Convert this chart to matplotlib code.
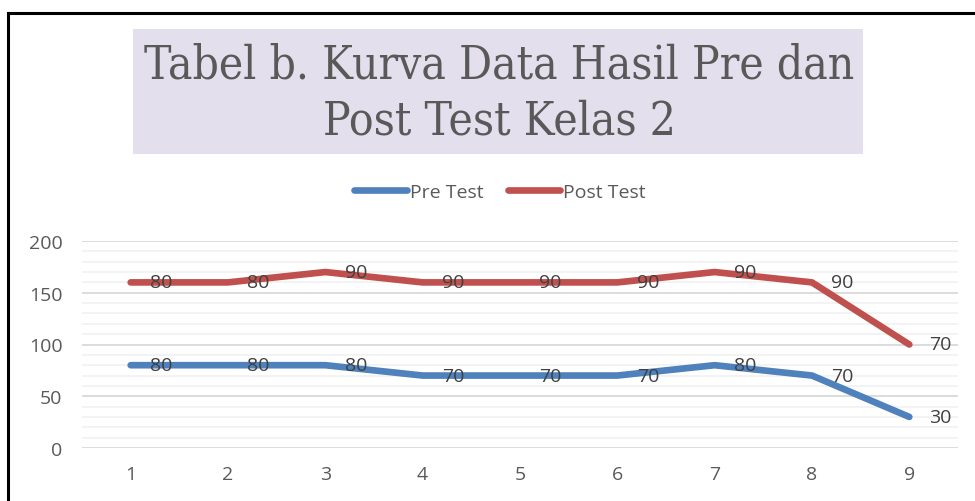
import numpy as np
import matplotlib
matplotlib.use("Agg")
import matplotlib.pyplot as plt
from matplotlib.lines import Line2D
from matplotlib.patches import Rectangle
from matplotlib import font_manager

# data (Excel stacked line chart)
categories = [1, 2, 3, 4, 5, 6, 7, 8, 9]
pre_test = [80, 80, 80, 70, 70, 70, 80, 70, 30]
post_test = [80, 80, 90, 90, 90, 90, 90, 90, 70]
y_ticks = [0, 50, 100, 150, 200]

title_lines = "Tabel b. Kurva Data Hasil Pre dan\nPost Test Kelas 2"

BLUE = "#4F81BD"
RED = "#C0504D"
GREY = "#595959"

W, H = 975, 502
plt.rcParams["font.family"] = ["Open Sans", "DejaVu Sans"]

# pick a condensed serif for the title if one is around
cond = [f for f in font_manager.fontManager.ttflist
        if f.name == "DejaVu Serif" and "ondensed" in str(f.stretch) + f.fname]
if cond:
    title_font = dict(family="DejaVu Serif", stretch="condensed", size=33)
else:
    title_font = dict(family="Liberation Serif", size=32)


def px(x, y):
    # pixel (from top-left) -> figure fraction
    return x / W, 1 - y / H


fig = plt.figure(figsize=(W / 100, H / 100), dpi=100)
fig.patch.set_facecolor("white")

# outer frame (top and left edges visible)
fig.add_artist(Line2D([8 / W, 1], [1 - 14 / H] * 2, color="black", lw=2.2,
                      transform=fig.transFigure))
fig.add_artist(Line2D([8 / W] * 2, [0, 1 - 14 / H], color="black", lw=2.2,
                      transform=fig.transFigure))

# title with lavender box
x0, y0 = px(133, 155)
fig.add_artist(Rectangle((x0, y0), (863 - 133) / W, (155 - 30) / H,
                         facecolor="#E4DFEC", edgecolor="none",
                         transform=fig.transFigure))
fig.text(499 / W, 1 - 94 / H, title_lines, ha="center", va="center",
         color=GREY, linespacing=1.3, **title_font)

left, bottom = px(82, 449)
right, top = px(958, 242)
ax = fig.add_axes([left, bottom, right - left, top - bottom])

pre = np.array(pre_test)
post_stack = pre + np.array(post_test)

ax.plot(categories, pre, color=BLUE, lw=4.8, solid_capstyle="round",
        solid_joinstyle="round", label="Pre Test", zorder=3)
ax.plot(categories, post_stack, color=RED, lw=4.8, solid_capstyle="round",
        solid_joinstyle="round", label="Post Test", zorder=3)

for x, y, v in zip(categories, pre, pre_test):
    ax.annotate(str(v), (x, y), xytext=(14, 0), textcoords="offset points",
                ha="left", va="center", color="#404040", fontsize=14, zorder=4)
for x, y, v in zip(categories, post_stack, post_test):
    ax.annotate(str(v), (x, y), xytext=(14, 0), textcoords="offset points",
                ha="left", va="center", color="#404040", fontsize=14, zorder=4)

ax.set_xlim(0.5, 9.5)
ax.set_ylim(0, 200)
ax.set_xticks(categories)
ax.set_yticks(y_ticks)
ax.set_yticks(np.arange(0, 201, 10), minor=True)
ax.grid(which="major", axis="y", color="#D9D9D9", lw=1.3)
ax.grid(which="minor", axis="y", color="#F2F2F2", lw=1.3)
ax.set_axisbelow(True)
for s in ax.spines.values():
    s.set_visible(False)
ax.tick_params(axis="both", which="both", length=0, colors=GREY, labelsize=14)
ax.tick_params(axis="y", pad=14)
ax.tick_params(axis="x", pad=12)
ax.set_facecolor("none")

lx, ly = px(500, 193)
leg = ax.legend(loc="center", bbox_to_anchor=(lx, ly),
                bbox_transform=fig.transFigure, ncol=2, frameon=False,
                fontsize=14, handlelength=2.7, handletextpad=0.15,
                columnspacing=1.25, labelcolor=GREY)

fig.savefig("out.png", dpi=100)
